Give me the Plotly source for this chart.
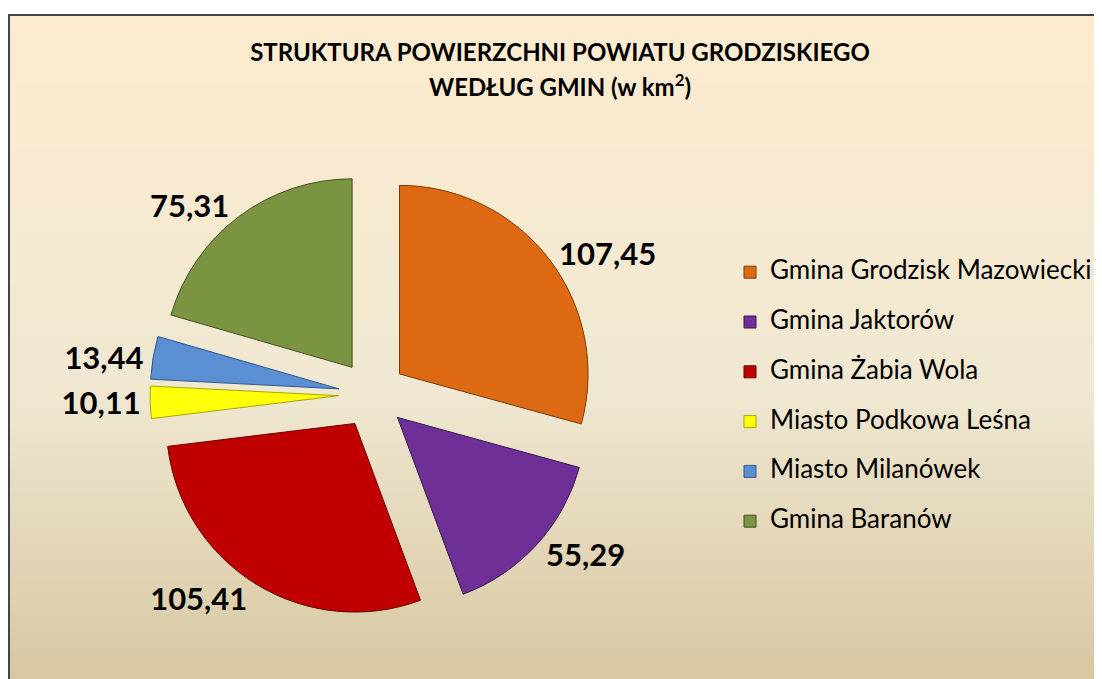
import plotly.graph_objects as go

# ---- data ----
gminy = [
    "Gmina Grodzisk Mazowiecki",
    "Gmina Jaktorów",
    "Gmina Żabia Wola",
    "Miasto Podkowa Leśna",
    "Miasto Milanówek",
    "Gmina Baranów",
]
powierzchnia = [107.45, 55.29, 105.41, 10.11, 13.44, 75.31]
kolory = ["#DD6A12", "#6E2F96", "#C00000", "#FFFF0A", "#5A8FD4", "#7A9442"]
krawedzie = ["#7A3A08", "#3A1650", "#6A0000", "#A8A800", "#2F5A8A", "#425220"]

title_line1 = "STRUKTURA POWIERZCHNI POWIATU GRODZISKIEGO"
title_line2 = "WEDŁUG GMIN (w km<sup>2</sup>)"

FONT = "Lato"

# legend labels: larger visible text, two-line entries for Excel-like spacing
legend_labels = [f"<span style='font-size:26px'>{g}</span><br> " for g in gminy]

W, H = 1102, 679

fig = go.Figure()
fig.add_trace(go.Pie(
    labels=legend_labels,
    values=powierzchnia,
    sort=False,
    direction="clockwise",
    rotation=0,
    pull=0.18,
    marker=dict(colors=kolory, line=dict(color=krawedzie, width=1)),
    texttemplate="%{value:.2f}",
    textposition="outside",
    outsidetextfont=dict(family=FONT, size=31, color="black", weight="bold"),
    hoverinfo="none",
    domain=dict(x=[140 / W, 589 / W], y=[1 - 609 / H, 1 - 164 / H]),
))

# background gradient (frame) built from thin bands
x0, y0 = 1, 7  # frame top-left in px
stops = [(0.0, (253, 236, 207)), (0.55, (240, 232, 210)), (1.0, (214, 199, 160))]

def col(t):
    for (a, ca), (b, cb) in zip(stops[:-1], stops[1:]):
        if a <= t <= b:
            f = (t - a) / (b - a)
            return "rgb(%d,%d,%d)" % tuple(round(ca[i] + (cb[i] - ca[i]) * f) for i in range(3))
    return "rgb(%d,%d,%d)" % stops[-1][1]

shapes = []
n = 80
top = 1 - y0 / H
for i in range(n):
    ya = top - top * i / n
    yb = top - top * (i + 1) / n
    shapes.append(dict(type="rect", xref="paper", yref="paper",
                       x0=x0 / W, x1=1.01, y0=yb - 0.001, y1=ya,
                       fillcolor=col((i + 0.5) / n), line=dict(width=0), layer="below"))
shapes.append(dict(type="rect", xref="paper", yref="paper",
                   x0=x0 / W, x1=1.05, y0=-0.05, y1=top,
                   fillcolor="rgba(0,0,0,0)", line=dict(color="#454545", width=2), layer="below"))

title_text = (f"<span style='font-size:24px'>{title_line1}</span><br>"
              f"<span style='font-size:24px'>{title_line2}</span>")

fig.update_layout(
    width=W, height=H,
    margin=dict(l=0, r=0, t=0, b=0, autoexpand=False),
    paper_bgcolor="white",
    separators=", ",
    shapes=shapes,
    title=dict(text=title_text, x=552 / W, xanchor="center", y=1 - 53 / H, yanchor="top",
               font=dict(family=FONT, size=27, color="black", weight="bold")),
    showlegend=True,
    legend=dict(x=722 / W, xanchor="left", y=1 - 246 / H, yanchor="top",
                font=dict(family=FONT, size=18, color="black"),
                valign="top", bgcolor="rgba(0,0,0,0)", traceorder="normal"),
    font=dict(family=FONT),
)

fig.write_html("out.html")
